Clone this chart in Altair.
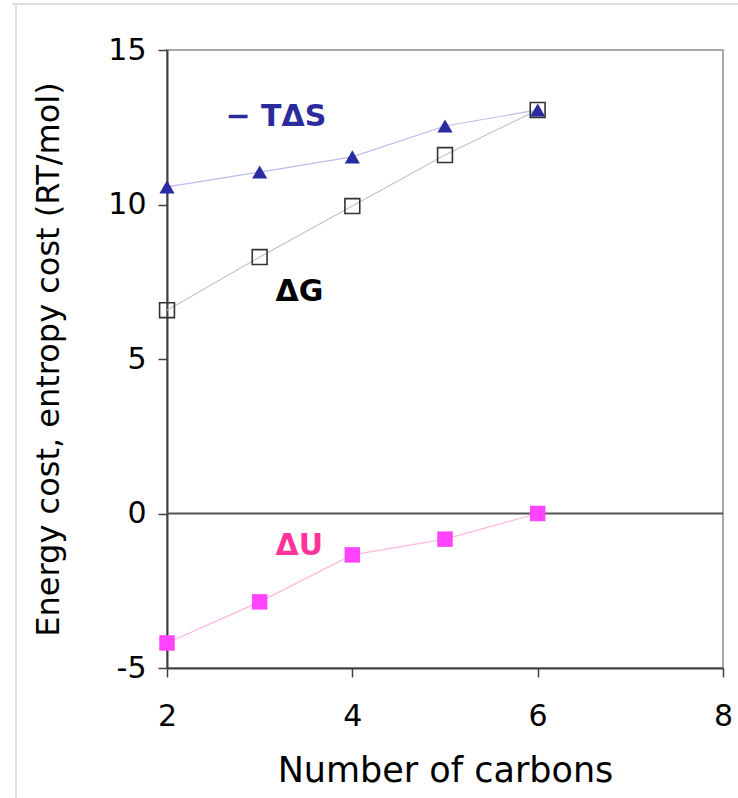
import altair as alt
import pandas as pd

carbons = [2, 3, 4, 5, 6]
minus_TdS = [10.57, 11.05, 11.54, 12.54, 13.06]
dG = [6.58, 8.30, 9.95, 11.60, 13.06]
dU = [-4.19, -2.86, -1.34, -0.83, 0.0]

label_text = ["\u2212 T\u0394S", "\u0394G", "\u0394U"]
label_x = [2.63, 3.17, 3.17]
label_y = [12.83, 7.17, -1.05]
label_color = ["#2b2b9b", "#000000", "#ff3399"]

x_ticks = [2, 4, 6, 8]
y_ticks = [-5, 0, 5, 10, 15]

FONT = "DejaVu Sans"
LBL = "datum.value < 0 ? '-' + abs(datum.value) : '' + datum.value"

df = pd.DataFrame({"n": carbons, "tds": minus_TdS, "dg": dG, "du": dU})
lab = pd.DataFrame({"t": label_text, "x": label_x, "y": label_y, "c": label_color})

xs = alt.Scale(domain=[2, 8], nice=False, zero=False)
ys = alt.Scale(domain=[-5, 15], nice=False, zero=False)

X = alt.X("n:Q", scale=xs, title="Number of carbons",
          axis=alt.Axis(values=x_ticks, grid=False, domainColor="#404040", domainWidth=2,
                        tickColor="#404040", tickWidth=1.5, tickSize=9, labelExpr=LBL,
                        labelFlush=False,
                        labelFont=FONT, labelFontSize=30, labelColor="#000", labelPadding=24,
                        titleFont=FONT, titleFontSize=35, titleFontWeight="normal",
                        titleColor="#000", titlePadding=22))
Yax = alt.Axis(values=y_ticks, grid=False, domainColor="#404040", domainWidth=2,
               tickColor="#404040", tickWidth=1.5, tickSize=9, labelExpr=LBL,
               labelFlush=False,
               labelFont=FONT, labelFontSize=30, labelColor="#000", labelPadding=12,
               titleFont=FONT, titleFontSize=32, titleFontWeight="normal",
               titleColor="#000", titlePadding=42)

base = alt.Chart(df)

zero = alt.Chart(pd.DataFrame({"z": [0]})).mark_rule(color="#555555", strokeWidth=2).encode(
    y=alt.Y("z:Q", scale=ys, title="Energy cost, entropy cost (RT/mol)", axis=Yax))

tds_line = base.mark_line(color="#bcbcee", strokeWidth=1.2).encode(
    x=X, y=alt.Y("tds:Q", scale=ys))
tds_pts = base.mark_point(shape="triangle-up", filled=True, color="#2b2ba3", size=230, opacity=1).encode(
    x=X, y=alt.Y("tds:Q", scale=ys))

dg_line = base.mark_line(color="#c4c4c4", strokeWidth=1.2).encode(
    x=X, y=alt.Y("dg:Q", scale=ys))
dg_pts = base.mark_point(shape="square", filled=False, color="#333333", strokeWidth=1.6, size=220, opacity=1).encode(
    x=X, y=alt.Y("dg:Q", scale=ys))

du_line = base.mark_line(color="#ffb8dc", strokeWidth=1.2).encode(
    x=X, y=alt.Y("du:Q", scale=ys))
du_pts = base.mark_point(shape="square", filled=True, color="#ff44ff", size=240, opacity=1).encode(
    x=X, y=alt.Y("du:Q", scale=ys))

labels = alt.Chart(lab).mark_text(font=FONT, fontSize=30, fontWeight="bold", align="left",
                                  baseline="middle").encode(
    x=alt.X("x:Q", scale=xs), y=alt.Y("y:Q", scale=ys),
    color=alt.Color("c:N", scale=None), text="t:N")

frame_top = alt.Chart(df).mark_rule(color="#dedede", strokeWidth=2).encode(
    x=alt.value(-155), x2=alt.value(580), y=alt.value(-46))
frame_left = alt.Chart(df).mark_rule(color="#dedede", strokeWidth=2).encode(
    x=alt.value(-151), y=alt.value(-46), y2=alt.value(760))

chart = alt.layer(zero, frame_top, frame_left, tds_line, dg_line, du_line,
                  dg_pts, du_pts, tds_pts, labels).properties(
    width=556, height=618,
    autosize=alt.AutoSizeParams(type="none"),
    padding={"left": 167, "top": 50, "right": 15, "bottom": 130},
    background="white",
).configure_view(stroke="#a8a8a8", strokeWidth=2)

chart.save("out.html", embed_options={"renderer": "svg", "actions": False})
